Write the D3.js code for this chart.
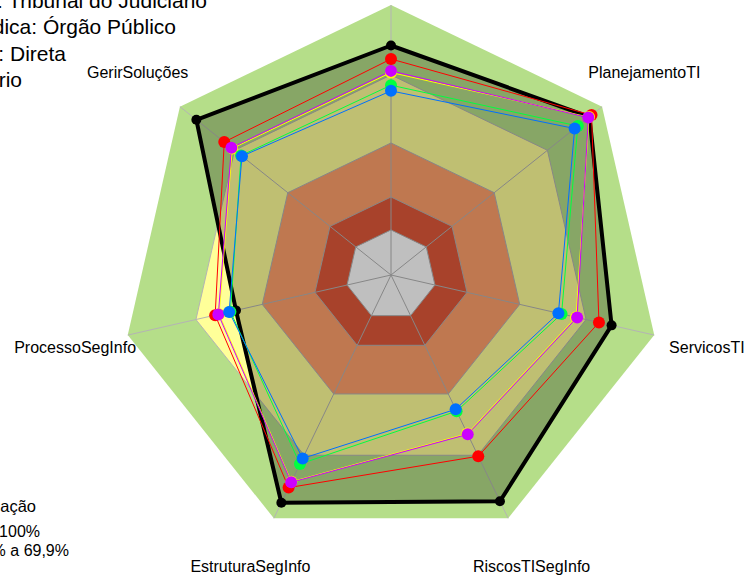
<!DOCTYPE html>
<html>
<head>
<meta charset="utf-8">
<script src="https://cdn.jsdelivr.net/npm/d3@7"></script>
<style>
  body { margin: 0; background: #fff; }
  svg { display: block; font-family: "Liberation Sans", Arial, sans-serif; }
</style>
</head>
<body>
<svg id="chart" width="744" height="576"></svg>
<script>
// axes, clockwise from the top (top label is off the picture)
var categories = ["", "PlanejamentoTI", "ServicosTI", "RiscosTISegInfo", "EstruturaSegInfo", "ProcessoSegInfo", "GerirSoluções"];

// band outer edges (%) and band colours
var levels = [16.7, 28.9, 48.9, 74.1, 100];
var bandColors = ["#ffffff", "#e0593a", "#ffa06b", "#ffff99", "#b5de89"];

// series values (%)
var serieBlack   = [85.0, 94.0, 83.8, 93.0, 93.6, 58.9, 92.2];
var serieRed     = [80.0, 95.0, 79.0, 74.5, 87.4, 66.8, 79.0];
var serieYellow  = [75.0, 93.8, 70.3, 65.2, 85.0, 65.3, 75.2];
var serieMagenta = [75.6, 93.5, 70.7, 65.5, 85.2, 65.6, 75.6];
var serieGreen   = [70.3, 88.5, 64.8, 56.0, 77.7, 61.0, 71.0];
var serieBlue    = [68.2, 87.0, 63.6, 55.2, 75.4, 61.5, 70.6];

var titleLines = ["Órgão: Tribunal do Judiciário", "Natureza Jurídica: Órgão Público", "Administração: Direta", "Poder: Judiciário"];
var legendTitle = "Faixa de classificação";
var legendItems = ["70% a 100%", "50% a 69,9%"];

var series = [
    {values: serieBlack, color: "#000000", width: 4, r: 5, fill: "rgba(0,0,0,0.25)"},
    {values: serieRed, color: "#ff0000", width: 1, r: 6},
    {values: serieYellow, color: "#ffff00", width: 1, r: 6},
    {values: serieMagenta, color: "#cc00ff", width: 1, r: 6},
    {values: serieGreen, color: "#00ff40", width: 1, r: 6},
    {values: serieBlue, color: "#0070ff", width: 1, r: 6}
];

var svg = d3.select("#chart");
var cx = 391, cy = 275, R = 270;
var n = categories.length;

var rScale = d3.scaleLinear().domain([0, 100]).range([0, R]);
var angle = function(i){ return i * 2 * Math.PI / n; };
var px = function(i, v){ return cx + rScale(v) * Math.sin(angle(i)); };
var py = function(i, v){ return cy - rScale(v) * Math.cos(angle(i)); };

var radial = d3.lineRadial()
    .angle(function(d, i){ return angle(i); })
    .radius(function(d){ return rScale(d); })
    .curve(d3.curveLinearClosed);

var g = svg.append("g").attr("transform", "translate(" + cx + "," + cy + ")");

// bands, outer first
for(var k = levels.length - 1; k >= 0; k--){
    g.append("path")
      .attr("d", radial(d3.range(n).map(function(){ return levels[k]; })))
      .attr("fill", bandColors[k])
      .attr("stroke", k < levels.length - 1 ? "#b4b4b4" : "none")
      .attr("stroke-width", 1);
}

// spokes
g.selectAll(".spoke").data(d3.range(n)).enter().append("line")
  .attr("class", "spoke")
  .attr("x1", 0).attr("y1", 0)
  .attr("x2", function(i){ return px(i, 100) - cx; })
  .attr("y2", function(i){ return py(i, 100) - cy; })
  .attr("stroke", "#b4b4b4")
  .attr("stroke-width", 1);

// series
series.forEach(function(s){
    g.append("path")
      .attr("d", radial(s.values))
      .attr("fill", s.fill || "none")
      .attr("stroke", s.color)
      .attr("stroke-width", s.width)
      .attr("stroke-linejoin", "round");
});
series.forEach(function(s){
    g.selectAll(null).data(s.values).enter().append("circle")
      .attr("cx", function(d, i){ return px(i, d) - cx; })
      .attr("cy", function(d, i){ return py(i, d) - cy; })
      .attr("r", s.r)
      .attr("fill", s.color);
});

// axis labels
var labelR = 120;
svg.selectAll(".lab").data(categories).enter()
  .filter(function(d){ return d !== ""; })
  .append("text")
  .attr("x", function(d){ var i = categories.indexOf(d); return px(i, labelR); })
  .attr("y", function(d){ var i = categories.indexOf(d); return py(i, labelR); })
  .attr("text-anchor", "middle")
  .attr("dominant-baseline", "central")
  .attr("font-size", 16)
  .attr("fill", "#000")
  .text(function(d){ return d; });

// title (left part falls outside the picture)
var titleEnds = [207, 176, 66, 22];
titleLines.forEach(function(t, i){
    svg.append("text")
      .attr("x", titleEnds[i]).attr("y", 8 + i * 26.3)
      .attr("text-anchor", "end")
      .attr("font-size", 21)
      .text(t);
});

// legend (also cut on the left)
svg.append("text").attr("x", 36).attr("y", 512)
  .attr("text-anchor", "end").attr("font-size", 16.5).text(legendTitle);
var legendEnds = [40, 69];
legendItems.forEach(function(t, i){
    svg.append("text")
      .attr("x", legendEnds[i]).attr("y", 537 + i * 19)
      .attr("text-anchor", "end")
      .attr("font-size", 16)
      .text(t);
});
</script>
</body>
</html>
